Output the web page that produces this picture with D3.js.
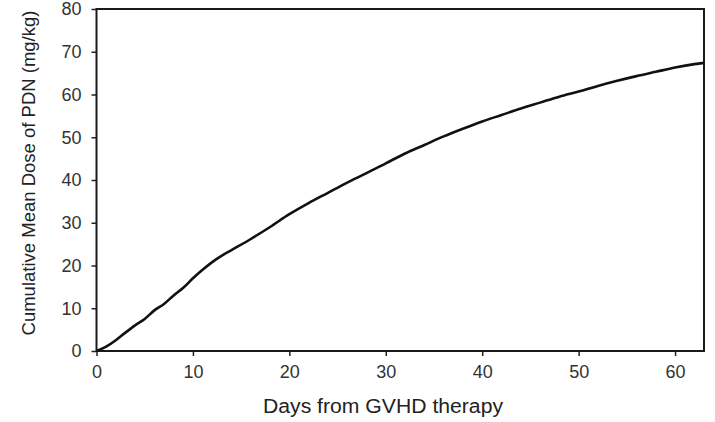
<!DOCTYPE html>
<html lang="en">
<head>
<meta charset="UTF-8">
<title>Cumulative Mean Dose of PDN</title>
<script src="https://d3js.org/d3.v7.min.js"></script>
<style>
html, body {
  margin: 0;
  padding: 0;
  background-color: white;
}
body {
  font-family: 'Liberation Sans', Arial, sans-serif;
}
.axis text {
  font-family: 'Liberation Sans', Arial, sans-serif;
  font-size: 18px;
  fill: #333;
}
.axis line {
  stroke: #222;
  stroke-width: 1.5;
}
.axis path {
  display: none;
}
.axis-title {
  font-family: 'Liberation Sans', Arial, sans-serif;
  fill: #222;
}
</style>
</head>
<body>
<div id="chart"></div>
<script>

// --------------------------------------
// Data
// --------------------------------------

const days = [0, 1, 2, 3, 4, 5, 6, 7, 8, 9, 10, 11, 12, 13, 14, 16, 18, 20, 22, 24,
              26, 28, 30, 32, 34, 36, 38, 40, 42, 44, 46, 48, 50, 52, 54, 56, 58, 60, 62, 63];
const dose = [0, 1, 2.5, 4.3, 6, 7.5, 9.5, 11, 13, 14.8, 17, 19, 20.8, 22.3, 23.6, 26.2, 29, 32, 34.6, 37,
              39.4, 41.6, 43.9, 46.2, 48.2, 50.2, 52, 53.7, 55.2, 56.7, 58.1, 59.5, 60.7, 62, 63.2, 64.3, 65.3, 66.3, 67.1, 67.4];

const xTicks = [0, 10, 20, 30, 40, 50, 60];
const yTicks = [0, 10, 20, 30, 40, 50, 60, 70, 80];

const xTitle = "Days from GVHD therapy";
const yTitle = "Cumulative Mean Dose of PDN (mg/kg)";

// --------------------------------------
// Size
// --------------------------------------

let totalWidth = 715;
let totalHeight = 422;
let margin = {top: 9, right: 11, bottom: 71, left: 96.5};

let svg = d3.select("#chart")
  .append("svg")
  .attr("width", totalWidth)
  .attr("height", totalHeight)
  .style("display", "block")
  .style("background", "white");

// --------------------------------------
// Scales
// --------------------------------------

let x = d3.scaleLinear()
  .domain([0, 63])
  .range([margin.left, totalWidth - margin.right]);

let y = d3.scaleLinear()
  .domain([0, 80])
  .range([totalHeight - margin.bottom, margin.top]);

// --------------------------------------
// Axes
// --------------------------------------

svg.append("g")
  .attr("class", "axis x-axis")
  .attr("transform", `translate(0, ${y(0)})`)
  .call(d3.axisBottom(x)
    .tickValues(xTicks)
    .tickSize(5)
    .tickPadding(9));

svg.append("g")
  .attr("class", "axis y-axis")
  .attr("transform", `translate(${x(0)}, 0)`)
  .call(d3.axisLeft(y)
    .tickValues(yTicks)
    .tickSize(5)
    .tickPadding(10));

// plot frame
svg.append("rect")
  .attr("x", x(0))
  .attr("y", y(80))
  .attr("width", x(63) - x(0))
  .attr("height", y(0) - y(80))
  .attr("fill", "none")
  .attr("stroke", "#1a1a1a")
  .attr("stroke-width", 2);

// --------------------------------------
// Line
// --------------------------------------

let points = days.map((d, i) => ({day: d, dose: dose[i]}));

let line = d3.line()
  .x(d => x(d.day))
  .y(d => y(d.dose))
  .curve(d3.curveMonotoneX);

svg.append("path")
  .datum(points)
  .attr("d", line)
  .attr("fill", "none")
  .attr("stroke", "#111")
  .attr("stroke-width", 2.6)
  .attr("stroke-linejoin", "round");

// --------------------------------------
// Titles
// --------------------------------------

svg.append("text")
  .attr("class", "axis-title")
  .attr("x", 383)
  .attr("y", 413)
  .attr("text-anchor", "middle")
  .attr("textLength", 240)
  .attr("lengthAdjust", "spacingAndGlyphs")
  .style("font-size", "20px")
  .text(xTitle);

svg.append("text")
  .attr("class", "axis-title")
  .attr("transform", "translate(35, 173) rotate(-90)")
  .attr("text-anchor", "middle")
  .style("font-size", "18.5px")
  .text(yTitle);

</script>
</body>
</html>
